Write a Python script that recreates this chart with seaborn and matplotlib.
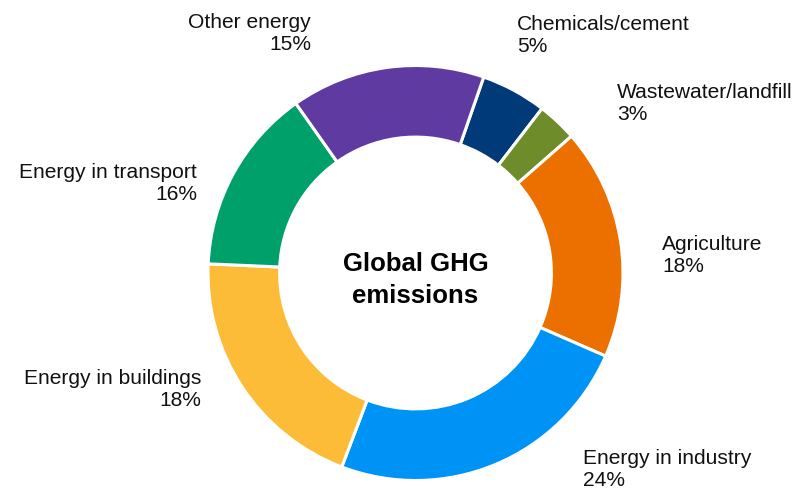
import matplotlib
matplotlib.use("Agg")
import matplotlib.pyplot as plt
import seaborn as sns

# Data (clockwise from the top-right)
categories = ["Chemicals/cement", "Wastewater/landfill", "Agriculture",
              "Energy in industry", "Energy in buildings", "Energy in transport",
              "Other energy"]
shares = [5.1, 3.1, 18.0, 24.2, 19.9, 14.5, 15.1]   # drawn wedge sizes
pct_labels = ["5%", "3%", "18%", "24%", "18%", "16%", "15%"]
colors = ["#003a78", "#6e8c2a", "#ec7000", "#0093f6", "#fdbc38", "#00a06b", "#5f3ba1"]

sns.set_theme(style="white")
plt.rcParams["font.family"] = ["Liberation Sans", "DejaVu Sans"]

W, H = 798, 492
fig = plt.figure(figsize=(W / 100, H / 100), dpi=100)
ax = fig.add_axes([0, 0, 1, 1])

cx, cy, R = 415.5, H - 273, 207.5
ax.pie(shares, colors=colors, startangle=70.8, counterclock=False,
       center=(cx, cy), radius=R,
       wedgeprops=dict(width=R * 0.345, edgecolor="white", linewidth=2.2))
ax.set_xlim(0, W)
ax.set_ylim(0, H)
ax.set_aspect("equal")
ax.axis("off")

# label placement (x, y in pixels from top, alignment)
label_pos = [
    (517, 35, "left"),
    (617, 103, "left"),
    (662, 255, "left"),
    (583, 470, "left"),
    (201, 389, "right"),
    (197, 183, "right"),
    (311, 34, "right"),
]
for cat, pct, (x, y, ha) in zip(categories, pct_labels, label_pos):
    ax.text(x, H - y, f"{cat}\n{pct}", ha=ha, va="center", fontsize=15.1,
            linespacing=1.2, color="#111111", multialignment=ha)

ax.text(cx, H - 280, "Global GHG\nemissions", ha="center", va="center",
        fontsize=18.5, fontweight="bold", linespacing=1.38, color="#000000")

fig.savefig("out.png", dpi=100)
